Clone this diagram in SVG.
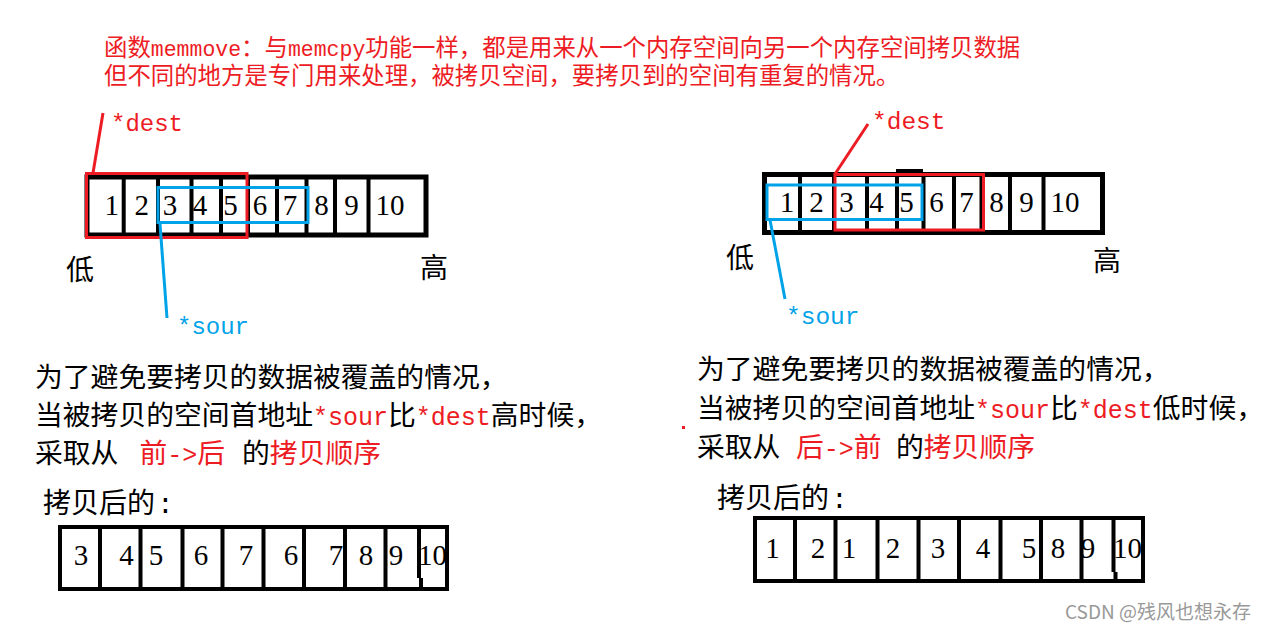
<svg xmlns="http://www.w3.org/2000/svg" width="1272" height="630" viewBox="0 0 1272 630">
<style>
.cjk{font-family:"Noto Sans CJK SC","Noto Sans",sans-serif}
.mono{font-family:"Liberation Mono","DejaVu Sans Mono",monospace}
.dig{font-family:"Liberation Serif","DejaVu Serif",serif;font-size:29px;text-anchor:middle;fill:#000}
.red{fill:#ED1C24}
.blue{fill:#00A2E8}
.blk{fill:#000}
.frame{fill:#fff;stroke:#000;stroke-width:5}
.div{stroke:#000;stroke-width:4;fill:none}
.rbox{fill:none;stroke:#ED1C24;stroke-width:3}
.bbox{fill:none;stroke:#00A2E8;stroke-width:3}
.rl{stroke:#ED1C24;stroke-width:3;fill:none}
.bl{stroke:#00A2E8;stroke-width:3;fill:none}
</style>
<rect width="1272" height="630" fill="#fff"/>

<g id="title" class="cjk red" font-size="23.4">
<text y="56"><tspan x="104">函数</tspan><tspan x="150.8" class="mono" font-size="21.5">memmove</tspan><tspan x="241.1">：与</tspan><tspan x="287.9" class="mono" font-size="21.5">memcpy</tspan><tspan x="365.3">功能一样，都是用来从一个内存空间向另一个内存空间拷贝数据</tspan></text>
<text x="104" y="84">但不同的地方是专门用来处理，被拷贝空间，要拷贝到的空间有重复的情况。</text>
</g>

<g id="array-left">
<rect class="frame" x="87" y="177" width="339" height="58"/>
<path class="div" d="M123.7,177V235M158,177V235M191.5,177V235M221,177V235M248,177V235M277,177V235M306.5,177V235M335,177V235M368.5,177V235"/>
<text class="dig" y="215"><tspan x="111.7">1</tspan><tspan x="141.7">2</tspan><tspan x="170">3</tspan><tspan x="200">4</tspan><tspan x="230.5">5</tspan><tspan x="260">6</tspan><tspan x="290">7</tspan><tspan x="321.5">8</tspan><tspan x="351.5">9</tspan><tspan x="390">10</tspan></text>
<rect class="rbox" x="86.5" y="173.5" width="160.5" height="64"/>
<rect class="bbox" x="158" y="187.5" width="150" height="35"/>
</g>

<g id="array-right">
<rect x="896" y="169" width="27" height="4" fill="#000"/>
<rect class="frame" x="764.5" y="174.5" width="338" height="58"/>
<path class="div" d="M800,174.5V232.5M834,174.5V232.5M867,174.5V232.5M897,174.5V232.5M923.5,174.5V232.5M954,174.5V232.5M981.5,174.5V232.5M1010,174.5V232.5M1043.5,174.5V232.5"/>
<text class="dig" y="212"><tspan x="787">1</tspan><tspan x="816.5">2</tspan><tspan x="846.5">3</tspan><tspan x="876.5">4</tspan><tspan x="906.5">5</tspan><tspan x="936.5">6</tspan><tspan x="966.5">7</tspan><tspan x="996.5">8</tspan><tspan x="1026.5">9</tspan><tspan x="1065">10</tspan></text>
<rect class="rbox" x="835" y="174.5" width="148.5" height="55.5"/>
<rect class="bbox" x="767" y="185" width="155" height="34.5"/>
</g>

<g id="connectors">
<path class="rl" d="M93,173L103,113"/>
<path class="bl" d="M160,224L167,318"/>
<path class="rl" d="M835,174L868,124"/>
<path class="bl" d="M770,220L785,299"/>
</g>

<g id="labels-left">
<text class="mono red" font-size="24" x="111" y="131">*dest</text>
<text class="mono blue" font-size="24" x="177" y="334">*sour</text>
<text class="cjk blk" font-size="28" x="66" y="280">低</text>
<text class="cjk blk" font-size="28" x="420" y="278">高</text>
</g>

<g id="labels-right">
<text class="mono red" font-size="24.5" x="872" y="129">*dest</text>
<text class="mono blue" font-size="24.5" x="786" y="324">*sour</text>
<text class="cjk blk" font-size="28" x="726" y="268">低</text>
<text class="cjk blk" font-size="28" x="1093" y="271">高</text>
</g>

<g id="para-left" class="cjk blk" font-size="27.8">
<text x="35" y="387">为了避免要拷贝的数据被覆盖的情况，</text>
<text y="425"><tspan x="35">当被拷贝的空间首地址</tspan><tspan x="313" class="mono red" font-size="25">*sour</tspan><tspan x="388">比</tspan><tspan x="415.8" class="mono red" font-size="25">*dest</tspan><tspan x="490.8">高时候，</tspan></text>
<text y="463"><tspan x="35">采取从</tspan><tspan x="139.5" class="red">前</tspan><tspan x="167.3" class="mono red" font-size="25">-&gt;</tspan><tspan x="197.3" class="red">后</tspan><tspan x="242">的</tspan><tspan x="269.8" class="red">拷贝顺序</tspan></text>
</g>

<g id="para-right" class="cjk blk" font-size="27.8">
<text x="697" y="379">为了避免要拷贝的数据被覆盖的情况，</text>
<text y="418"><tspan x="697">当被拷贝的空间首地址</tspan><tspan x="975" class="mono red" font-size="25">*sour</tspan><tspan x="1050">比</tspan><tspan x="1077.8" class="mono red" font-size="25">*dest</tspan><tspan x="1152.8">低时候，</tspan></text>
<text y="457"><tspan x="697">采取从</tspan><tspan x="796" class="red">后</tspan><tspan x="823.8" class="mono red" font-size="25">-&gt;</tspan><tspan x="853.8" class="red">前</tspan><tspan x="896">的</tspan><tspan x="923.8" class="red">拷贝顺序</tspan></text>
</g>

<rect id="dot" x="682" y="426" width="3" height="3" fill="#ED1C24"/>

<g id="result-left">
<text class="cjk blk" font-size="28" y="513"><tspan x="43">拷贝后的</tspan><tspan x="157" class="mono">:</tspan></text>
<rect class="frame" x="60" y="527" width="387" height="62" style="stroke-width:4"/>
<path class="div" d="M100,527V589M140.5,527V589M182.5,527V589M222.5,527V589M263.5,527V589M304,527V589M345,527V589M385.5,527V589M419,527V578M421,578V589"/>
<text class="dig" y="565"><tspan x="81">3</tspan><tspan x="126.5">4</tspan><tspan x="156">5</tspan><tspan x="201">6</tspan><tspan x="246">7</tspan><tspan x="291">6</tspan><tspan x="336">7</tspan><tspan x="366">8</tspan><tspan x="396">9</tspan><tspan x="432.5">10</tspan></text>
</g>

<g id="result-right">
<text class="cjk blk" font-size="28" y="508"><tspan x="717">拷贝后的</tspan><tspan x="831" class="mono">:</tspan></text>
<rect class="frame" x="755" y="518" width="388" height="63" style="stroke-width:4"/>
<path class="div" d="M795,518V581M835.5,518V581M877.5,518V581M918.5,518V581M959,518V581M1000.5,518V581M1041,518V581M1081.5,518V581M1113.5,518V572M1115.5,572V581"/>
<text class="dig" y="558"><tspan x="772.5">1</tspan><tspan x="818">2</tspan><tspan x="849">1</tspan><tspan x="893">2</tspan><tspan x="938">3</tspan><tspan x="983">4</tspan><tspan x="1029">5</tspan><tspan x="1058">8</tspan><tspan x="1088">9</tspan><tspan x="1127.5">10</tspan></text>
</g>

<text id="watermark" class="cjk" font-size="19" fill="#999" x="1065" y="619">CSDN @残风也想永存</text>
</svg>
